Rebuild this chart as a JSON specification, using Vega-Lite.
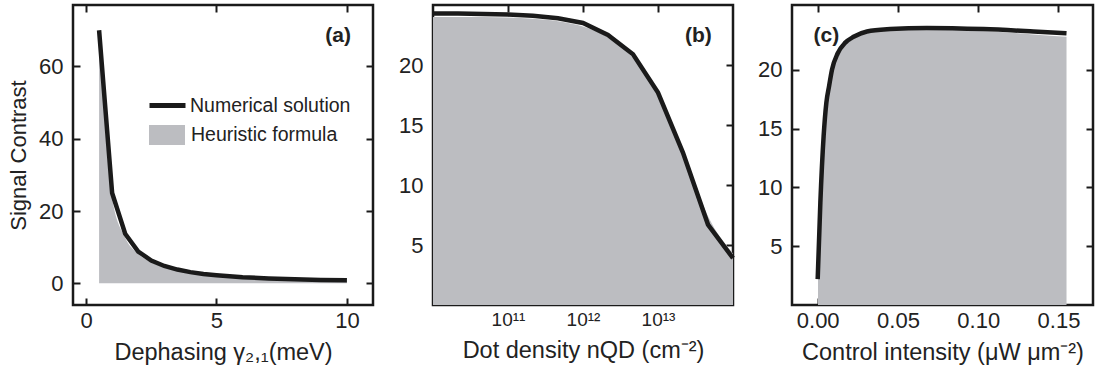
{
  "$schema": "https://vega.github.io/schema/vega-lite/v6.json",
  "padding": {"left": 6, "top": 2, "right": 5, "bottom": 5},
  "background": "white",
  "config": {
    "font": "Liberation Sans",
    "view": {"stroke": "#1a1a1a", "strokeWidth": 2.5},
    "axis": {
      "domain": false, "grid": false, "tickSize": -7, "tickWidth": 2, "tickColor": "#1a1a1a",
      "labelFont": "Liberation Sans", "labelFontSize": 22, "labelColor": "#222", "labelFlush": false,
      "titleFont": "Liberation Sans", "titleFontSize": 23.5, "titleFontWeight": "normal", "titleColor": "#222",
      "labelPadding": 12, "titlePadding": 9
    },
    "axisY": {"labelPadding": 17, "titlePadding": 8, "titleFontSize": 22}
  },
  "datasets": {
    "a_line": [
      {"x": 0.5, "y": 70}, {"x": 1, "y": 25}, {"x": 1.5, "y": 13.7}, {"x": 2, "y": 8.8}, {"x": 2.5, "y": 6.3},
      {"x": 3, "y": 4.8}, {"x": 3.5, "y": 3.8}, {"x": 4, "y": 3.1}, {"x": 4.5, "y": 2.6}, {"x": 5, "y": 2.25},
      {"x": 6, "y": 1.7}, {"x": 7, "y": 1.35}, {"x": 8, "y": 1.1}, {"x": 9, "y": 0.95}, {"x": 10, "y": 0.85}
    ],
    "a_area": [
      {"x": 0.5, "y": 70}, {"x": 1, "y": 23.5}, {"x": 1.5, "y": 12.6}, {"x": 2, "y": 8.1}, {"x": 2.5, "y": 5.8},
      {"x": 3, "y": 4.4}, {"x": 3.5, "y": 3.5}, {"x": 4, "y": 2.9}, {"x": 5, "y": 2.05}, {"x": 6, "y": 1.55},
      {"x": 7, "y": 1.25}, {"x": 8, "y": 1.0}, {"x": 10, "y": 0.7}
    ],
    "b_line": [
      {"x": 1e10, "y": 24.3}, {"x": 2.15e10, "y": 24.3}, {"x": 4.64e10, "y": 24.25}, {"x": 1e11, "y": 24.2},
      {"x": 2.15e11, "y": 24.1}, {"x": 4.64e11, "y": 23.9}, {"x": 1e12, "y": 23.5}, {"x": 2.15e12, "y": 22.5},
      {"x": 4.64e12, "y": 20.9}, {"x": 1e13, "y": 17.7}, {"x": 2.15e13, "y": 12.7}, {"x": 4.64e13, "y": 6.7},
      {"x": 1e14, "y": 3.9}
    ],
    "b_area": [
      {"x": 1e10, "y": 24.0}, {"x": 2.15e10, "y": 24.0}, {"x": 4.64e10, "y": 24.0}, {"x": 1e11, "y": 23.95},
      {"x": 2.15e11, "y": 23.85}, {"x": 4.64e11, "y": 23.65}, {"x": 1e12, "y": 23.2}, {"x": 2.15e12, "y": 22.3},
      {"x": 4.64e12, "y": 20.6}, {"x": 1e13, "y": 17.6}, {"x": 2.15e13, "y": 12.9}, {"x": 4.64e13, "y": 7.4},
      {"x": 1e14, "y": 4.3}
    ],
    "c_line": [
      {"x": 0, "y": 2.2}, {"x": 0.00166, "y": 8.7}, {"x": 0.0037, "y": 14.35}, {"x": 0.0054, "y": 17.2},
      {"x": 0.0071, "y": 18.6}, {"x": 0.0089, "y": 20.0}, {"x": 0.0125, "y": 21.4}, {"x": 0.0172, "y": 22.3},
      {"x": 0.0224, "y": 22.8}, {"x": 0.0307, "y": 23.25}, {"x": 0.0452, "y": 23.45}, {"x": 0.068, "y": 23.55},
      {"x": 0.1033, "y": 23.45}, {"x": 0.1345, "y": 23.25}, {"x": 0.155, "y": 23.1}
    ],
    "c_area": [
      {"x": 0.0002, "y": 3.0}, {"x": 0.00166, "y": 8.6}, {"x": 0.0037, "y": 14.2}, {"x": 0.0054, "y": 17.0},
      {"x": 0.0071, "y": 18.4}, {"x": 0.0089, "y": 19.8}, {"x": 0.0125, "y": 21.2}, {"x": 0.0172, "y": 22.1},
      {"x": 0.0224, "y": 22.6}, {"x": 0.0307, "y": 23.1}, {"x": 0.0452, "y": 23.35}, {"x": 0.068, "y": 23.45},
      {"x": 0.1033, "y": 23.3}, {"x": 0.1345, "y": 23.0}, {"x": 0.155, "y": 22.8}
    ]
  },
  "spacing": 60,
  "bounds": "flush",
  "resolve": {"scale": {"stroke": "independent", "fill": "independent"}},
  "hconcat": [
    {
      "width": 300, "height": 300,
      "resolve": {"axis": {"x": "independent", "y": "independent"}},
      "layer": [
        {
          "data": {"name": "a_area"},
          "mark": {"type": "area", "interpolate": "monotone"},
          "encoding": {
            "x": {"field": "x", "type": "quantitative", "scale": {"domain": [-0.5, 11], "nice": false, "zero": false},
                  "axis": {"values": [0, 5, 10], "title": "Dephasing γ₂,₁(meV)"}},
            "y": {"field": "y", "type": "quantitative", "scale": {"domain": [-6, 77], "nice": false, "zero": false},
                  "axis": {"values": [0, 20, 40, 60], "title": "Signal Contrast"}},
            "fill": {"datum": "Heuristic formula", "type": "nominal", "scale": {"range": ["#bcbdc1"]},
                     "legend": {"title": null, "orient": "none", "legendX": 84, "legendY": 120,
                                "symbolType": "M-1.8,-1H1.8V1H-1.8Z", "symbolSize": 400, "symbolStrokeWidth": 0,
                                "labelFont": "Liberation Sans", "labelFontSize": 19.5, "labelColor": "#222", "labelOffset": 14, "labelLimit": 0}}
          }
        },
        {
          "data": {"name": "a_line"},
          "mark": {"type": "line", "strokeWidth": 4.5, "strokeJoin": "miter"},
          "encoding": {
            "x": {"field": "x", "type": "quantitative", "scale": {"domain": [-0.5, 11], "nice": false, "zero": false},
                  "axis": {"orient": "top", "values": [0, 5, 10], "labels": false, "title": null}},
            "y": {"field": "y", "type": "quantitative", "scale": {"domain": [-6, 77], "nice": false, "zero": false},
                  "axis": {"orient": "right", "values": [0, 20, 40, 60], "labels": false, "title": null}},
            "stroke": {"datum": "Numerical solution", "type": "nominal", "scale": {"range": ["#1a1a1a"]},
                       "legend": {"title": null, "orient": "none", "legendX": 74, "legendY": 80,
                                  "symbolType": "stroke", "symbolSize": 1296, "symbolStrokeWidth": 5,
                                  "labelFont": "Liberation Sans", "labelFontSize": 19.5, "labelColor": "#222", "labelOffset": 2, "labelLimit": 0}}
          }
        },
        {
          "data": {"values": [{"x": 9.66, "y": 68.5, "t": "(a)"}]},
          "mark": {"type": "text", "font": "Liberation Sans", "fontWeight": "bold", "fontSize": 21, "color": "#222"},
          "encoding": {
            "x": {"field": "x", "type": "quantitative", "scale": {"domain": [-0.5, 11], "nice": false, "zero": false}, "axis": null},
            "y": {"field": "y", "type": "quantitative", "scale": {"domain": [-6, 77], "nice": false, "zero": false}, "axis": null},
            "text": {"field": "t"}
          }
        }
      ]
    },
    {
      "spacing": 59,
      "bounds": "flush",
      "hconcat": [
        {
          "width": 300, "height": 300,
          "resolve": {"axis": {"x": "independent", "y": "independent"}},
          "layer": [
            {
              "data": {"name": "b_area"},
              "mark": {"type": "area", "interpolate": "monotone", "color": "#bcbdc1"},
              "encoding": {
                "x": {"field": "x", "type": "quantitative", "scale": {"type": "log", "domain": [1e10, 1e14], "nice": false},
                      "axis": {"values": [1e11, 1e12, 1e13], "labelFontSize": 19,
                               "labelExpr": "datum.value < 5e11 ? '10¹¹' : datum.value < 5e12 ? '10¹²' : '10¹³'",
                               "title": "Dot density nQD (cm⁻²)"}},
                "y": {"field": "y", "type": "quantitative", "scale": {"domain": [0, 25], "nice": false, "zero": false},
                      "axis": {"values": [5, 10, 15, 20], "title": null}}
              }
            },
            {
              "data": {"name": "b_line"},
              "mark": {"type": "line", "strokeWidth": 4.5, "color": "#1a1a1a"},
              "encoding": {
                "x": {"field": "x", "type": "quantitative", "scale": {"type": "log", "domain": [1e10, 1e14], "nice": false},
                      "axis": {"orient": "top", "values": [1e11, 1e12, 1e13], "labels": false, "title": null}},
                "y": {"field": "y", "type": "quantitative", "scale": {"domain": [0, 25], "nice": false, "zero": false},
                      "axis": {"orient": "right", "values": [5, 10, 15, 20], "labels": false, "title": null}}
              }
            },
            {
              "data": {"values": [{"x": 3.46e13, "y": 22.4, "t": "(b)"}]},
              "mark": {"type": "text", "font": "Liberation Sans", "fontWeight": "bold", "fontSize": 21, "color": "#222"},
              "encoding": {
                "x": {"field": "x", "type": "quantitative", "scale": {"type": "log", "domain": [1e10, 1e14], "nice": false}, "axis": null},
                "y": {"field": "y", "type": "quantitative", "scale": {"domain": [0, 25], "nice": false, "zero": false}, "axis": null},
                "text": {"field": "t"}
              }
            }
          ]
        },
        {
          "width": 301, "height": 300,
          "resolve": {"axis": {"x": "independent", "y": "independent"}},
          "layer": [
            {
              "data": {"name": "c_area"},
              "mark": {"type": "area", "interpolate": "monotone", "color": "#bcbdc1"},
              "encoding": {
                "x": {"field": "x", "type": "quantitative", "scale": {"domain": [-0.016, 0.1715], "nice": false, "zero": false},
                      "axis": {"values": [0, 0.05, 0.1, 0.15], "format": ".2f", "title": "Control intensity (μW μm⁻²)"}},
                "y": {"field": "y", "type": "quantitative", "scale": {"domain": [0, 25.5], "nice": false, "zero": false},
                      "axis": {"values": [5, 10, 15, 20], "title": null}}
              }
            },
            {
              "data": {"name": "c_line"},
              "mark": {"type": "line", "strokeWidth": 4.5, "color": "#1a1a1a", "interpolate": "monotone"},
              "encoding": {
                "x": {"field": "x", "type": "quantitative", "scale": {"domain": [-0.016, 0.1715], "nice": false, "zero": false},
                      "axis": {"orient": "top", "values": [0, 0.05, 0.1, 0.15], "labels": false, "title": null}},
                "y": {"field": "y", "type": "quantitative", "scale": {"domain": [0, 25.5], "nice": false, "zero": false},
                      "axis": {"orient": "right", "values": [5, 10, 15, 20], "labels": false, "title": null}}
              }
            },
            {
              "data": {"values": [{"x": 0.0054, "y": 22.85, "t": "(c)"}]},
              "mark": {"type": "text", "font": "Liberation Sans", "fontWeight": "bold", "fontSize": 21, "color": "#222"},
              "encoding": {
                "x": {"field": "x", "type": "quantitative", "scale": {"domain": [-0.016, 0.1715], "nice": false, "zero": false}, "axis": null},
                "y": {"field": "y", "type": "quantitative", "scale": {"domain": [0, 25.5], "nice": false, "zero": false}, "axis": null},
                "text": {"field": "t"}
              }
            }
          ]
        }
      ]
    }
  ]
}
